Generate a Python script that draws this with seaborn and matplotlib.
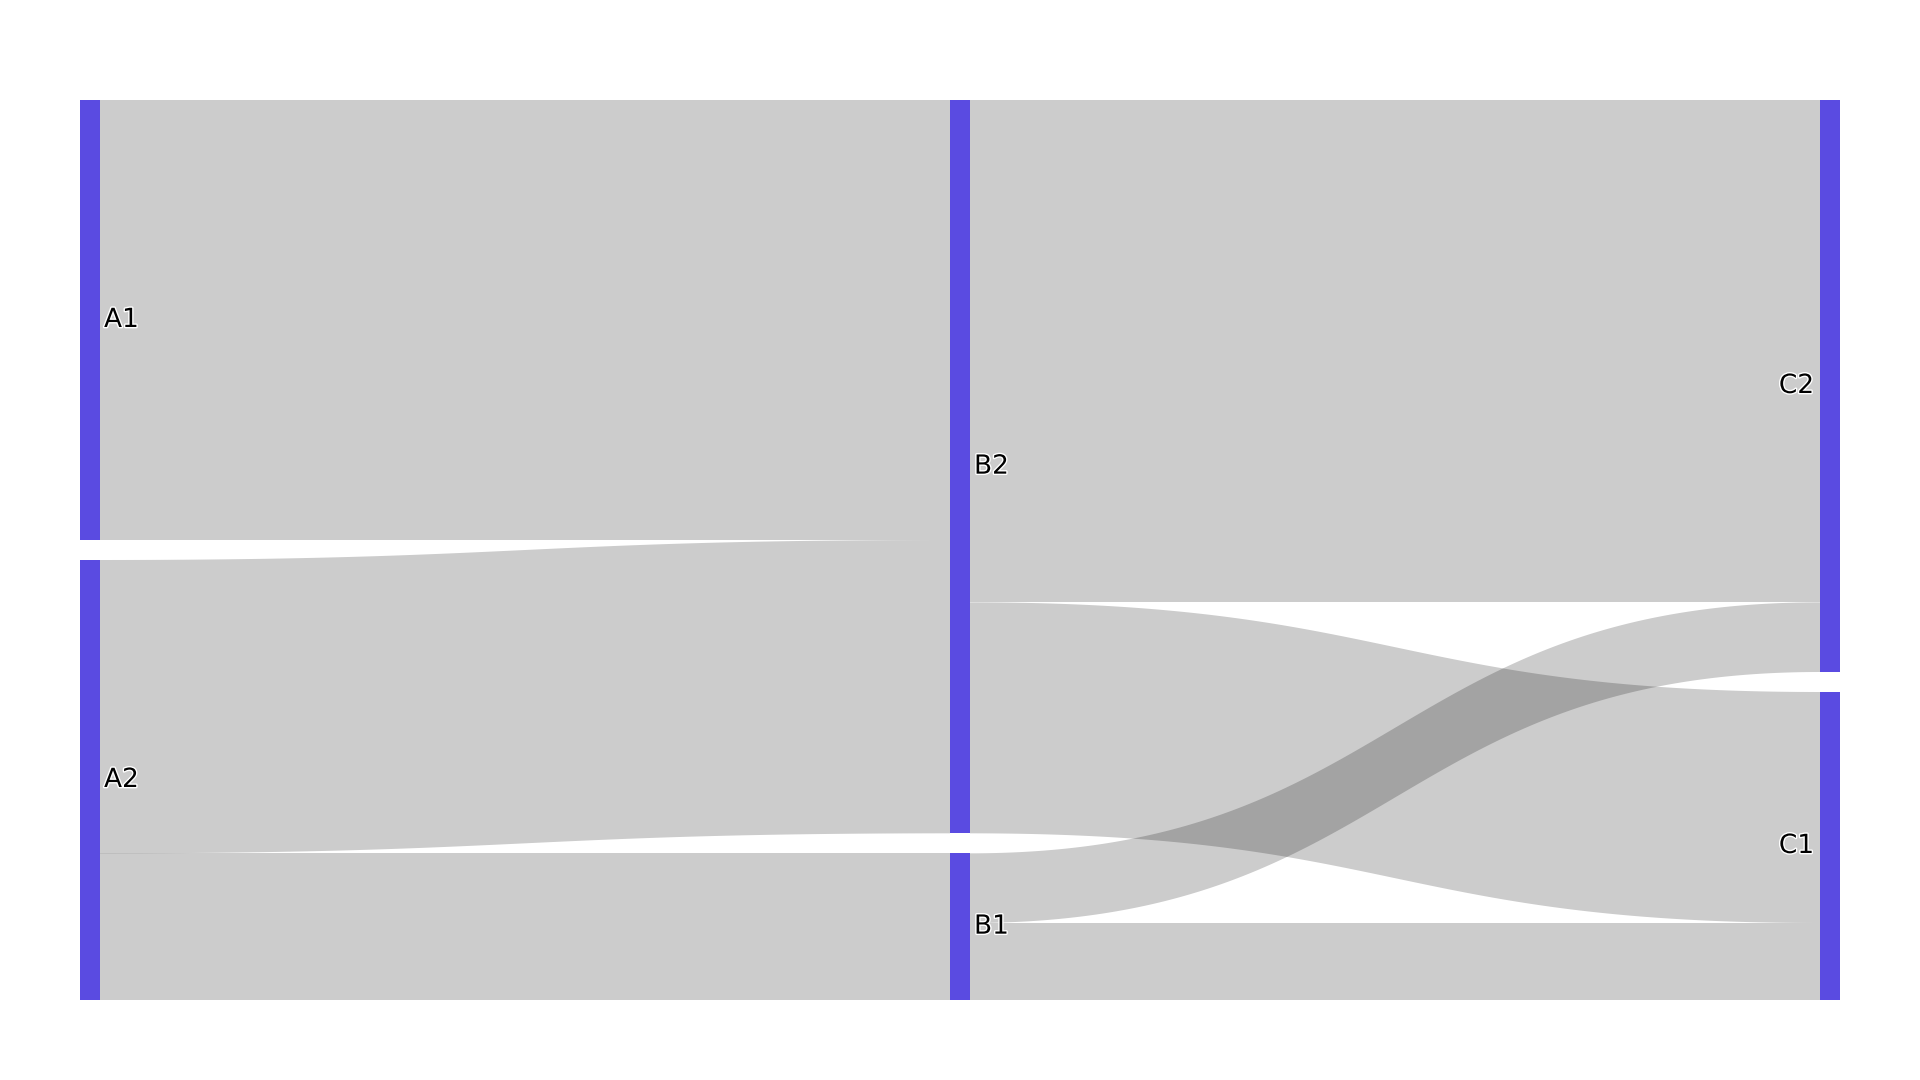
import numpy as np
import matplotlib.pyplot as plt
import matplotlib.patheffects as pe
import seaborn as sns

# sankey data
node_labels = ['A1', 'A2', 'B2', 'B1', 'C2', 'C1']
node_column = [0, 0, 1, 1, 2, 2]
link_source = ['A1', 'A2', 'A2', 'B2', 'B2', 'B1', 'B1']
link_target = ['B2', 'B2', 'B1', 'C2', 'C1', 'C2', 'C1']
link_value = [6, 4, 2, 6.85, 3.15, 0.95, 1.05]

node_color = '#5A4BE1'
link_color = (0, 0, 0, 0.2)

sns.set_theme(style='white')
plt.rcParams['font.family'] = ['DejaVu Sans']

fig = plt.figure(figsize=(19.2, 10.8), dpi=100)
# plot area in figure fraction (plotly-like margins)
ax = fig.add_axes([80 / 1920, 80 / 1080, 1760 / 1920, 900 / 1080])
ax.set_axis_off()

# node sizes = max(inflow, outflow)
inflow = {n: 0.0 for n in node_labels}
outflow = {n: 0.0 for n in node_labels}
for s, t, v in zip(link_source, link_target, link_value):
    outflow[s] += v
    inflow[t] += v
node_size = {n: max(inflow[n], outflow[n]) for n in node_labels}

n_cols = max(node_column) + 1
col_totals = [sum(node_size[n] for n, c in zip(node_labels, node_column) if c == k) for k in range(n_cols)]
total = max(col_totals)
pad = total * 20 / 880  # node gap in value units
node_w = 20 / 1760

# stack nodes in each column
node_y0 = {}
node_x0 = {}
for k in range(n_cols):
    y = 0.0
    for n, c in zip(node_labels, node_column):
        if c == k:
            node_y0[n] = y
            node_x0[n] = k / (n_cols - 1) * (1 - node_w)
            y += node_size[n] + pad

# link offsets: sort by partner node position
src_off = {n: node_y0[n] for n in node_labels}
tgt_off = {n: node_y0[n] for n in node_labels}
links = list(zip(link_source, link_target, link_value))
link_pos = {}
for i in sorted(range(len(links)), key=lambda i: (node_y0[links[i][0]], node_y0[links[i][1]])):
    s, t, v = links[i]
    link_pos.setdefault(i, {})['s'] = src_off[s]
    src_off[s] += v
for i in sorted(range(len(links)), key=lambda i: (node_y0[links[i][1]], node_y0[links[i][0]])):
    s, t, v = links[i]
    link_pos[i]['t'] = tgt_off[t]
    tgt_off[t] += v

tt = np.linspace(0, 1, 200)
for i, (s, t, v) in enumerate(links):
    x0 = node_x0[s] + node_w
    x1 = node_x0[t]
    xm = (x0 + x1) / 2
    # cubic bezier with curvature 0.5
    bx = (1 - tt) ** 3 * x0 + 3 * (1 - tt) ** 2 * tt * xm + 3 * (1 - tt) * tt ** 2 * xm + tt ** 3 * x1
    by = 3 * tt ** 2 - 2 * tt ** 3
    ys0, yt0 = link_pos[i]['s'], link_pos[i]['t']
    top = ys0 + (yt0 - ys0) * by
    bot = top + v
    ax.fill(np.concatenate([bx, bx[::-1]]), np.concatenate([top, bot[::-1]]),
            color=link_color, lw=0, zorder=1)

for n, c in zip(node_labels, node_column):
    ax.add_patch(plt.Rectangle((node_x0[n], node_y0[n]), node_w, node_size[n],
                               color=node_color, lw=0, zorder=2))
    yc = node_y0[n] + node_size[n] / 2
    halo = [pe.withStroke(linewidth=2, foreground='white')]
    if c == n_cols - 1:
        ax.text(node_x0[n] - 6 / 1760, yc, n, ha='right', va='center',
                fontsize=19, color='black', zorder=3, path_effects=halo)
    else:
        ax.text(node_x0[n] + node_w + 4 / 1760, yc, n, ha='left', va='center',
                fontsize=19, color='black', zorder=3, path_effects=halo)

ax.set_xlim(0, 1)
ax.set_ylim(total + pad, 0)

plt.savefig('out.png', dpi=100, facecolor='white')
